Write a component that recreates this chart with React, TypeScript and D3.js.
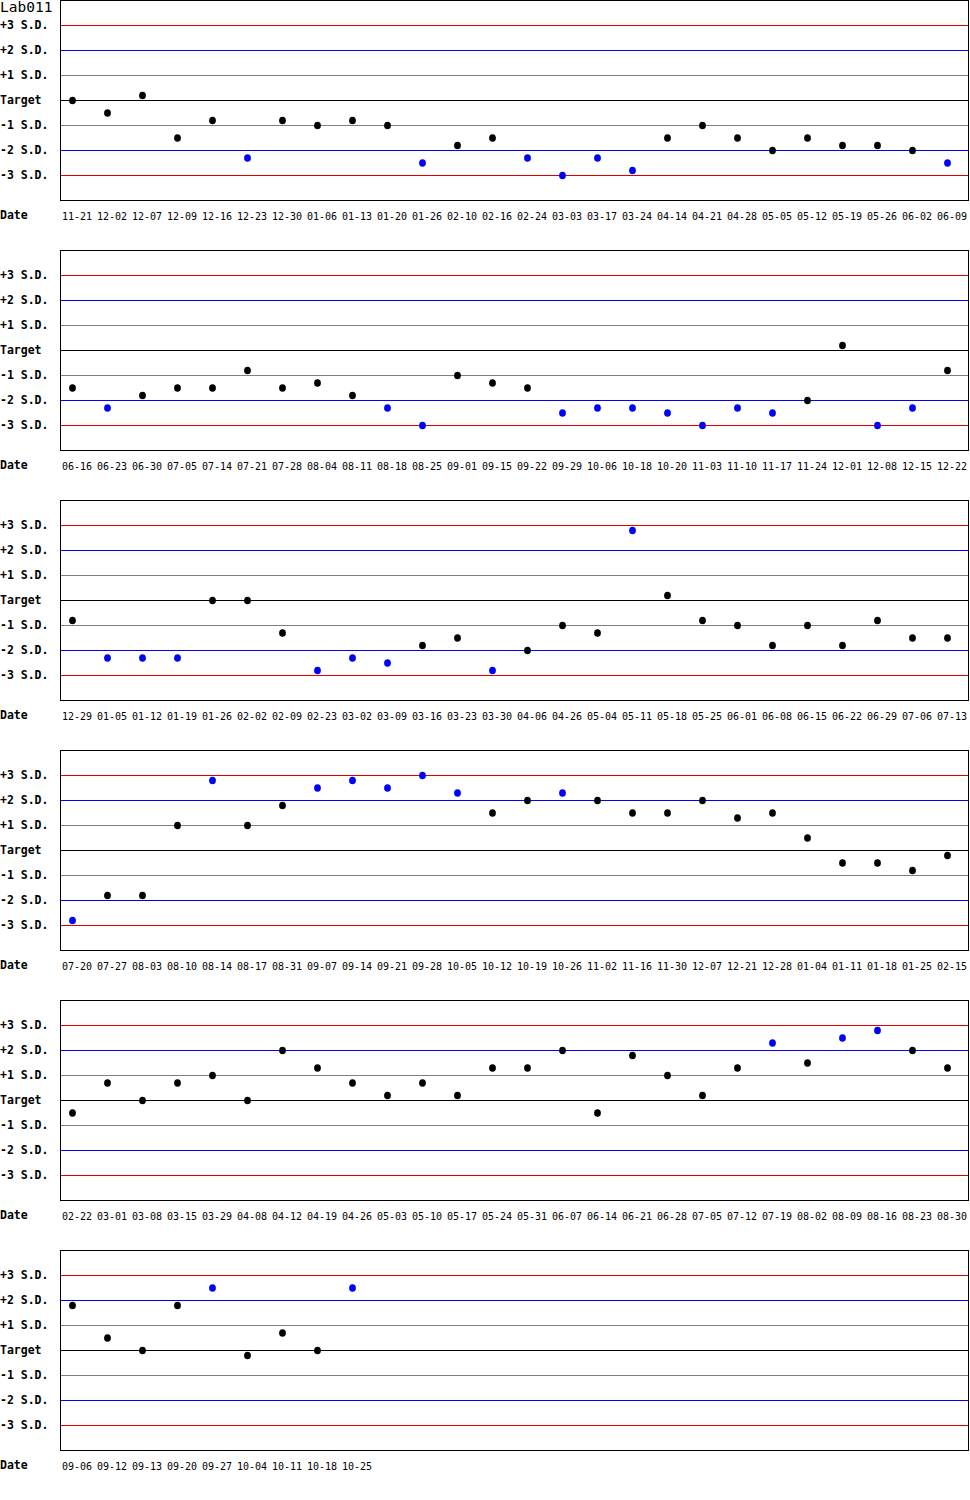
import React from 'react';
import * as d3 from 'd3';

// Values are in S.D. units relative to target
const dates1 = ['11-21', '12-02', '12-07', '12-09', '12-16', '12-23', '12-30', '01-06', '01-13', '01-20', '01-26', '02-10', '02-16', '02-24', '03-03', '03-17', '03-24', '04-14', '04-21', '04-28', '05-05', '05-12', '05-19', '05-26', '06-02', '06-09'];
const values1 = [0, -0.5, 0.2, -1.5, -0.8, -2.3, -0.8, -1.0, -0.8, -1.0, -2.5, -1.8, -1.5, -2.3, -3.0, -2.3, -2.8, -1.5, -1.0, -1.5, -2.0, -1.5, -1.8, -1.8, -2.0, -2.5];

const dates2 = ['06-16', '06-23', '06-30', '07-05', '07-14', '07-21', '07-28', '08-04', '08-11', '08-18', '08-25', '09-01', '09-15', '09-22', '09-29', '10-06', '10-18', '10-20', '11-03', '11-10', '11-17', '11-24', '12-01', '12-08', '12-15', '12-22'];
const values2 = [-1.5, -2.3, -1.8, -1.5, -1.5, -0.8, -1.5, -1.3, -1.8, -2.3, -3.0, -1.0, -1.3, -1.5, -2.5, -2.3, -2.3, -2.5, -3.0, -2.3, -2.5, -2.0, 0.2, -3.0, -2.3, -0.8];

const dates3 = ['12-29', '01-05', '01-12', '01-19', '01-26', '02-02', '02-09', '02-23', '03-02', '03-09', '03-16', '03-23', '03-30', '04-06', '04-26', '05-04', '05-11', '05-18', '05-25', '06-01', '06-08', '06-15', '06-22', '06-29', '07-06', '07-13'];
const values3 = [-0.8, -2.3, -2.3, -2.3, 0, 0, -1.3, -2.8, -2.3, -2.5, -1.8, -1.5, -2.8, -2.0, -1.0, -1.3, 2.8, 0.2, -0.8, -1.0, -1.8, -1.0, -1.8, -0.8, -1.5, -1.5];

const dates4 = ['07-20', '07-27', '08-03', '08-10', '08-14', '08-17', '08-31', '09-07', '09-14', '09-21', '09-28', '10-05', '10-12', '10-19', '10-26', '11-02', '11-16', '11-30', '12-07', '12-21', '12-28', '01-04', '01-11', '01-18', '01-25', '02-15'];
const values4 = [-2.8, -1.8, -1.8, 1.0, 2.8, 1.0, 1.8, 2.5, 2.8, 2.5, 3.0, 2.3, 1.5, 2.0, 2.3, 2.0, 1.5, 1.5, 2.0, 1.3, 1.5, 0.5, -0.5, -0.5, -0.8, -0.2];

const dates5 = ['02-22', '03-01', '03-08', '03-15', '03-29', '04-08', '04-12', '04-19', '04-26', '05-03', '05-10', '05-17', '05-24', '05-31', '06-07', '06-14', '06-21', '06-28', '07-05', '07-12', '07-19', '08-02', '08-09', '08-16', '08-23', '08-30'];
const values5 = [-0.5, 0.7, 0, 0.7, 1.0, 0, 2.0, 1.3, 0.7, 0.2, 0.7, 0.2, 1.3, 1.3, 2.0, -0.5, 1.8, 1.0, 0.2, 1.3, 2.3, 1.5, 2.5, 2.8, 2.0, 1.3];

const dates6 = ['09-06', '09-12', '09-13', '09-20', '09-27', '10-04', '10-11', '10-18', '10-25'];
const values6 = [1.8, 0.5, 0, 1.8, 2.5, -0.2, 0.7, 0, 2.5];

const limitLabels = ['+3 S.D.', '+2 S.D.', '+1 S.D.', 'Target', '-1 S.D.', '-2 S.D.', '-3 S.D.'];
const limitLevels = [3, 2, 1, 0, -1, -2, -3];
const limitColors = ['#e00000', '#0000ff', '#808080', '#000000', '#808080', '#0000ff', '#e00000'];

const title = 'Lab011';
const slotsPerRow = 26;

const panels = [
  { dates: dates1, values: values1 },
  { dates: dates2, values: values2 },
  { dates: dates3, values: values3 },
  { dates: dates4, values: values4 },
  { dates: dates5, values: values5 },
  { dates: dates6, values: values6 },
];

const W = 970;
const H = 1500;
const left = 60;
const boxW = 908;
const boxH = 200;
const rowStep = 250;

const mono = "'DejaVu Sans Mono', 'Liberation Mono', monospace";

const App = () => {
  const x = d3.scaleBand<number>()
    .domain(d3.range(slotsPerRow))
    .range([left, left + slotsPerRow * 35]);

  return (
    <div style={{ position: 'absolute', left: 0, top: 0 }}>
      <svg width={W} height={H} style={{ display: 'block', background: '#fff' }}>
        <rect width={W} height={H} fill="#fff" />
        {panels.map((p, pi) => {
          const top = pi * rowStep;
          const y = d3.scaleLinear().domain([-4, 4]).range([top + boxH, top]);
          return (
            <g key={pi}>
              {limitLevels.map((lv, i) => (
                <line key={'l' + i}
                  x1={left} x2={left + boxW}
                  y1={Math.round(y(lv)) + 0.5} y2={Math.round(y(lv)) + 0.5}
                  stroke={limitColors[i]} strokeWidth={1} />
              ))}
              <rect x={left + 0.5} y={top + 0.5} width={boxW} height={boxH}
                fill="none" stroke="#000" strokeWidth={1} />
              {limitLevels.map((lv, i) => (
                <text key={'t' + i} x={0} y={y(lv) + 4}
                  fontFamily={mono} fontWeight="bold" fontSize={11.5} fill="#000">
                  {limitLabels[i]}
                </text>
              ))}
              {p.values.map((v, i) => (
                <ellipse key={'p' + i}
                  cx={(x(i) ?? 0) + 12.5} cy={y(v) + 0.5}
                  rx={3.4} ry={3.8}
                  fill={Math.abs(v) > 2 ? '#0000ff' : '#000'} />
              ))}
              <text x={0} y={top + 219} fontFamily={mono} fontWeight="bold" fontSize={11.5} fill="#000">Date</text>
              {p.dates.map((d, i) => (
                <text key={'d' + i} x={(x(i) ?? 0) + 2} y={top + 220}
                  fontFamily={mono} fontSize={10} fill="#000">{d}</text>
              ))}
            </g>
          );
        })}
        <text x={0} y={12} fontFamily={mono} fontSize={14.5} fill="#000">{title}</text>
      </svg>
    </div>
  );
};

export default App;
